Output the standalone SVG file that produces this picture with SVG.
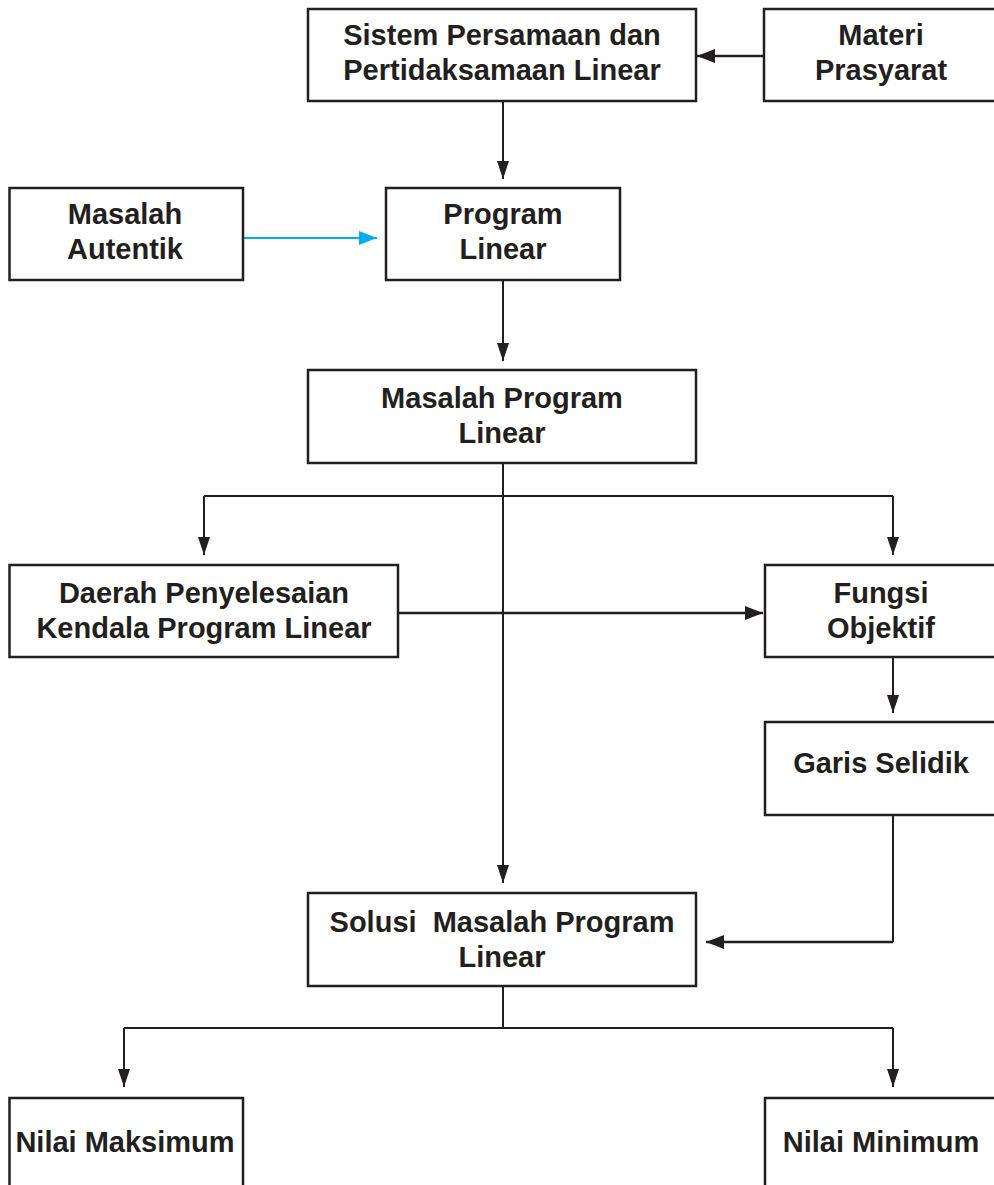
<svg xmlns="http://www.w3.org/2000/svg" width="994" height="1185" viewBox="0 0 994 1185">
<defs>
<marker id="ah" viewBox="0 0 18 14" refX="18" refY="7" markerWidth="18" markerHeight="14" markerUnits="userSpaceOnUse" orient="auto"><path d="M0,0 L18,7 L0,14 Z" fill="#231f20"/></marker>
<marker id="ahv" viewBox="0 0 18 12" refX="18" refY="6" markerWidth="18" markerHeight="12" markerUnits="userSpaceOnUse" orient="auto"><path d="M0,0 L18,6 L0,12 Z" fill="#231f20"/></marker>
<marker id="ahb" viewBox="0 0 18 14" refX="18" refY="7" markerWidth="18" markerHeight="14" markerUnits="userSpaceOnUse" orient="auto"><path d="M0,0 L18,7 L0,14 Z" fill="#00aeef"/></marker>
</defs>
<style>
.box{fill:#fff;stroke:#231f20;stroke-width:2.5}
.t{font-family:"Liberation Sans",Arial,sans-serif;font-weight:bold;font-size:29px;fill:#231f20;text-anchor:middle}
.c{fill:none;stroke:#231f20;stroke-width:2}
.ch{fill:none;stroke:#231f20;stroke-width:2.6}
.cb{fill:none;stroke:#00aeef;stroke-width:2.2}
</style>
<rect width="994" height="1185" fill="#fff"/>
<g id="connectors">
<path class="ch" d="M764,56 H697" marker-end="url(#ah)"/>
<path class="c" d="M503,101 V179" marker-end="url(#ahv)"/>
<path class="cb" d="M243,238 H377" marker-end="url(#ahb)"/>
<path class="c" d="M503,280 V361" marker-end="url(#ahv)"/>
<path class="c" d="M503,463 V883" marker-end="url(#ahv)"/>
<path class="c" d="M204,496 H893"/>
<path class="c" d="M204,496 V555" marker-end="url(#ahv)"/>
<path class="c" d="M893,496 V555" marker-end="url(#ahv)"/>
<path class="ch" d="M398,613 H763" marker-end="url(#ah)"/>
<path class="c" d="M893,657 V713" marker-end="url(#ahv)"/>
<path class="c" d="M893,815 V942"/>
<path class="ch" d="M893,942 H706" marker-end="url(#ah)"/>
<path class="c" d="M503,986 V1028"/>
<path class="c" d="M124,1028 H893"/>
<path class="c" d="M124,1028 V1087" marker-end="url(#ahv)"/>
<path class="c" d="M893,1028 V1087" marker-end="url(#ahv)"/>
</g>
<g id="n-sistem">
<rect class="box" x="308" y="9" width="388" height="92"/>
<text class="t" x="502" y="45">Sistem Persamaan dan</text>
<text class="t" x="502" y="80">Pertidaksamaan Linear</text>
</g>
<g id="n-materi">
<rect class="box" x="764" y="9" width="240" height="92"/>
<text class="t" x="881" y="45">Materi</text>
<text class="t" x="881" y="80">Prasyarat</text>
</g>
<g id="n-autentik">
<rect class="box" x="9.5" y="188" width="233.5" height="92"/>
<text class="t" x="125" y="224">Masalah</text>
<text class="t" x="125" y="259">Autentik</text>
</g>
<g id="n-program">
<rect class="box" x="386" y="188" width="234" height="92"/>
<text class="t" x="503" y="224">Program</text>
<text class="t" x="503" y="259">Linear</text>
</g>
<g id="n-masalah-program">
<rect class="box" x="308" y="370" width="388" height="93"/>
<text class="t" x="502" y="408">Masalah Program</text>
<text class="t" x="502" y="443">Linear</text>
</g>
<g id="n-daerah">
<rect class="box" x="9.5" y="565" width="388.5" height="92"/>
<text class="t" x="204" y="603">Daerah Penyelesaian</text>
<text class="t" x="204" y="638">Kendala Program Linear</text>
</g>
<g id="n-fungsi">
<rect class="box" x="765" y="565" width="240" height="92"/>
<text class="t" x="881" y="603">Fungsi</text>
<text class="t" x="881" y="638">Objektif</text>
</g>
<g id="n-garis">
<rect class="box" x="765" y="722" width="240" height="93"/>
<text class="t" x="881" y="773">Garis Selidik</text>
</g>
<g id="n-solusi">
<rect class="box" x="308" y="893" width="388" height="93"/>
<text class="t" x="502" y="932" xml:space="preserve">Solusi  Masalah Program</text>
<text class="t" x="502" y="967">Linear</text>
</g>
<g id="n-maks">
<rect class="box" x="9.5" y="1098" width="233.5" height="100"/>
<text class="t" x="125" y="1152">Nilai Maksimum</text>
</g>
<g id="n-min">
<rect class="box" x="765" y="1098" width="240" height="100"/>
<text class="t" x="881" y="1152">Nilai Minimum</text>
</g>
</svg>
